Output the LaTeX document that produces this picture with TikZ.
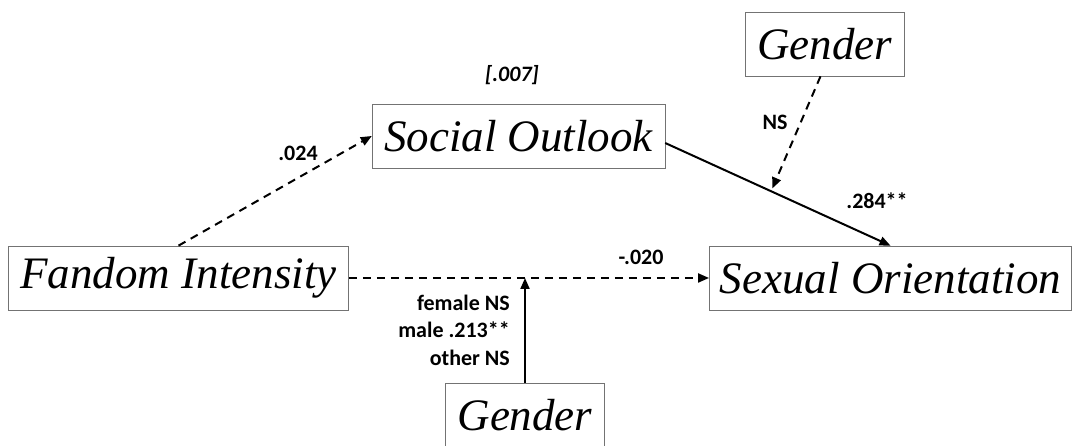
\documentclass[tikz,border=0pt]{standalone}
\usepackage{fontspec}
\setmainfont{Liberation Serif}
\newfontfamily\calib{Carlito}
\usetikzlibrary{arrows.meta,calc}

\begin{document}
\begin{tikzpicture}[x=1pt,y=1pt,
    var/.style={draw=black!55,line width=0.7pt,minimum height=64pt,
      inner xsep=12pt,font=\fontsize{45}{50}\selectfont\itshape},
    path/.style={line width=2pt,-{Triangle[length=11pt,width=9pt]}},
    ns/.style={path,dash pattern=on 8pt off 6pt},
    coef/.style={font=\calib\bfseries\fontsize{22}{27.5}\selectfont}]
        \useasboundingbox (0,0) rectangle (1073,446);

        \node[var] (fandom) at (178.5,168) {Fandom Intensity};
        \node[var] (social) at (518.5,310) {Social Outlook};
        \node[var,inner xsep=10.5pt] (sexual) at (890.5,168) {Sexual Orientation};
        \node[var,minimum width=155pt] (gendertop) at (824.5,402) {Gender};
        \node[var,minimum width=156pt] (genderbot) at (525,31) {Gender};

        \draw[ns] (fandom.north) -- (social.west);
        \draw[path] ([yshift=-7pt]social.east) -- (sexual.north)
          coordinate[pos=0.47] (modtop);
        \coordinate (modbot) at (genderbot.north |- fandom.east);
        \draw[ns] (fandom.east) -- (sexual.west);
        \draw[ns,shorten >=3pt] ([xshift=-4pt]gendertop.south) -- (modtop);
        \draw[path] (genderbot.north) -- (modbot);

        \node[coef] (a) at (298,293) {.024};
        \node[coef,font=\calib\bfseries\itshape\fontsize{22}{27}\selectfont]
          (ind) at (512,371) {[.007]};
        \node[coef] (b) at (775,324) {NS};
        \node[coef] (c) at (877,245) {.284**};
        \node[coef] (d) at (641,189) {-.020};
        \node[coef,align=right,anchor=east,inner sep=0pt] (e) at (510,116)
          {female NS\\male .213**\\other NS};
      \end{tikzpicture}
\end{document}
